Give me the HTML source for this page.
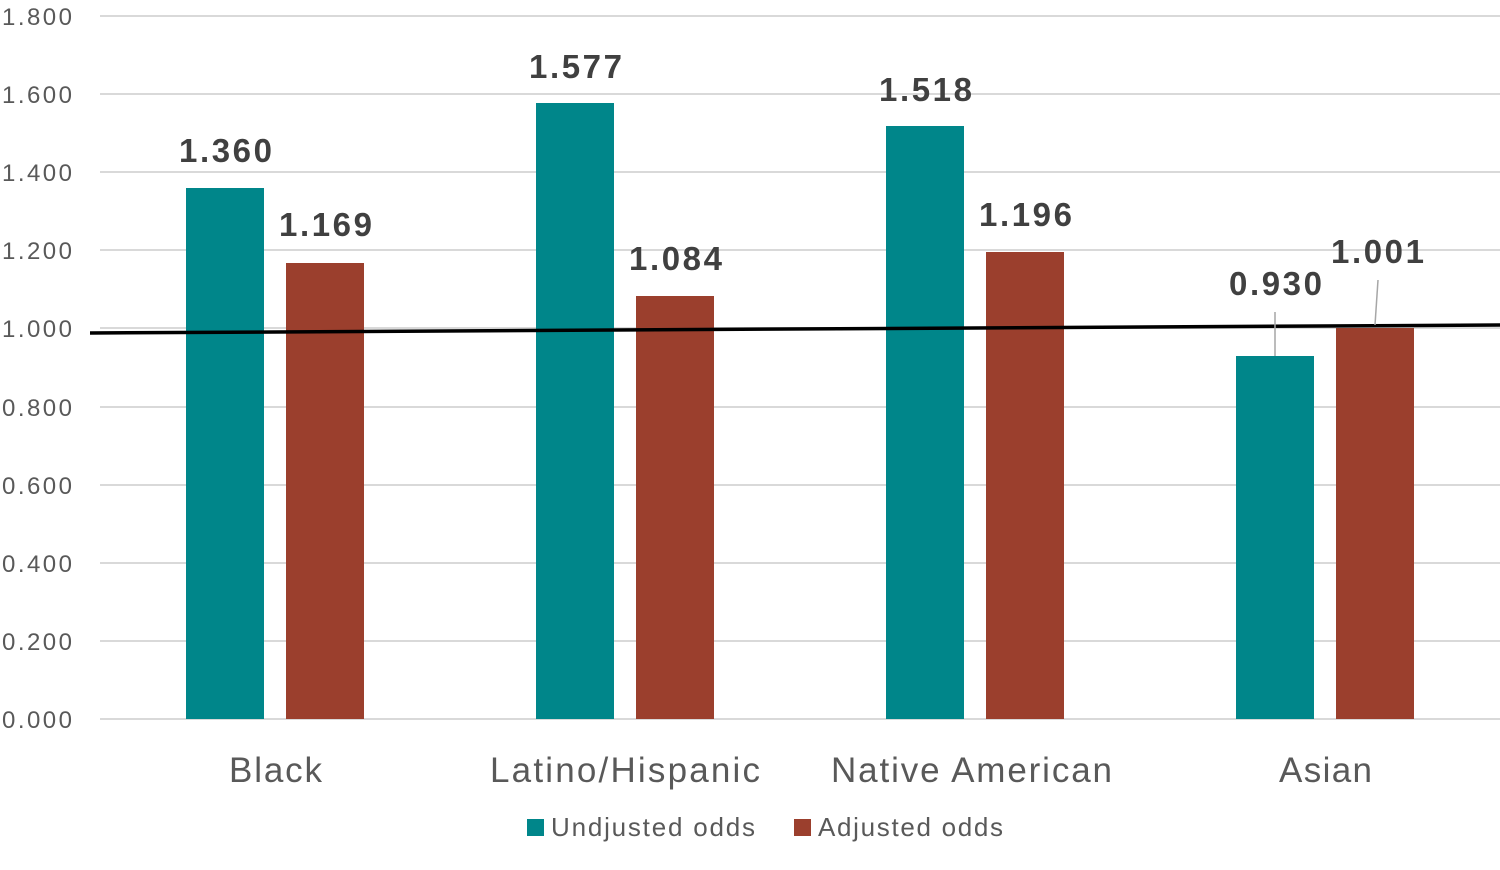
<!DOCTYPE html>
<html><head><meta charset="utf-8"><style>
html,body{margin:0;padding:0;background:#fff;}
svg{display:block;}
</style></head><body>
<svg width="1500" height="870" xmlns="http://www.w3.org/2000/svg" font-family="Liberation Sans, Arial, sans-serif">
<g stroke="#d9d9d9" stroke-width="2">
<line x1="100" x2="1500" y1="16" y2="16"/>
<line x1="100" x2="1500" y1="94" y2="94"/>
<line x1="100" x2="1500" y1="172" y2="172"/>
<line x1="100" x2="1500" y1="250" y2="250"/>
<line x1="100" x2="1500" y1="328" y2="328"/>
<line x1="100" x2="1500" y1="407" y2="407"/>
<line x1="100" x2="1500" y1="485" y2="485"/>
<line x1="100" x2="1500" y1="563" y2="563"/>
<line x1="100" x2="1500" y1="641" y2="641"/>
<line x1="100" x2="1500" y1="719" y2="719"/>
</g>
<g fill="#595959" font-size="24" lengthAdjust="spacingAndGlyphs">
<text x="2" y="25" textLength="70">1.800</text>
<text x="2" y="103" textLength="70">1.600</text>
<text x="2" y="181" textLength="70">1.400</text>
<text x="2" y="259" textLength="70">1.200</text>
<text x="2" y="337" textLength="70">1.000</text>
<text x="2" y="416" textLength="70">0.800</text>
<text x="2" y="494" textLength="70">0.600</text>
<text x="2" y="572" textLength="70">0.400</text>
<text x="2" y="650" textLength="70">0.200</text>
<text x="2" y="728" textLength="70">0.000</text>
</g>
<g fill="#00868a">
<rect x="186" y="188" width="78" height="531"/>
<rect x="536" y="103" width="78" height="616"/>
<rect x="886" y="126" width="78" height="593"/>
<rect x="1236" y="356" width="78" height="363"/>
</g>
<g fill="#9b3f2d">
<rect x="286" y="263" width="78" height="456"/>
<rect x="636" y="296" width="78" height="423"/>
<rect x="986" y="252" width="78" height="467"/>
<rect x="1336" y="328" width="78" height="391"/>
</g>
<line x1="90" y1="333" x2="1500" y2="325" stroke="#000" stroke-width="3.5"/>
<g stroke="#a6a6a6" stroke-width="1.5">
<line x1="1275" y1="312" x2="1275" y2="356"/>
<line x1="1378" y1="280" x2="1375" y2="325"/>
</g>
<g fill="#404040" font-size="33" font-weight="bold" lengthAdjust="spacingAndGlyphs">
<text x="179" y="162" textLength="93">1.360</text>
<text x="279" y="236" textLength="93">1.169</text>
<text x="529" y="78" textLength="93">1.577</text>
<text x="629" y="270" textLength="93">1.084</text>
<text x="879" y="101" textLength="93">1.518</text>
<text x="979" y="226" textLength="93">1.196</text>
<text x="1229" y="295" textLength="93">0.930</text>
<text x="1331" y="263" textLength="93">1.001</text>
</g>
<g fill="#595959" font-size="35" lengthAdjust="spacingAndGlyphs">
<text x="229" y="782" textLength="93">Black</text>
<text x="490" y="782" textLength="270">Latino/Hispanic</text>
<text x="831" y="782" textLength="281">Native American</text>
<text x="1279" y="782" textLength="93">Asian</text>
</g>
<rect x="527" y="819" width="17" height="17" fill="#00868a"/>
<rect x="794" y="819" width="17" height="17" fill="#9b3f2d"/>
<g fill="#595959" font-size="26" lengthAdjust="spacingAndGlyphs">
<text x="551" y="836" textLength="204">Undjusted odds</text>
<text x="818" y="836" textLength="185">Adjusted odds</text>
</g>
</svg>
</body></html>
